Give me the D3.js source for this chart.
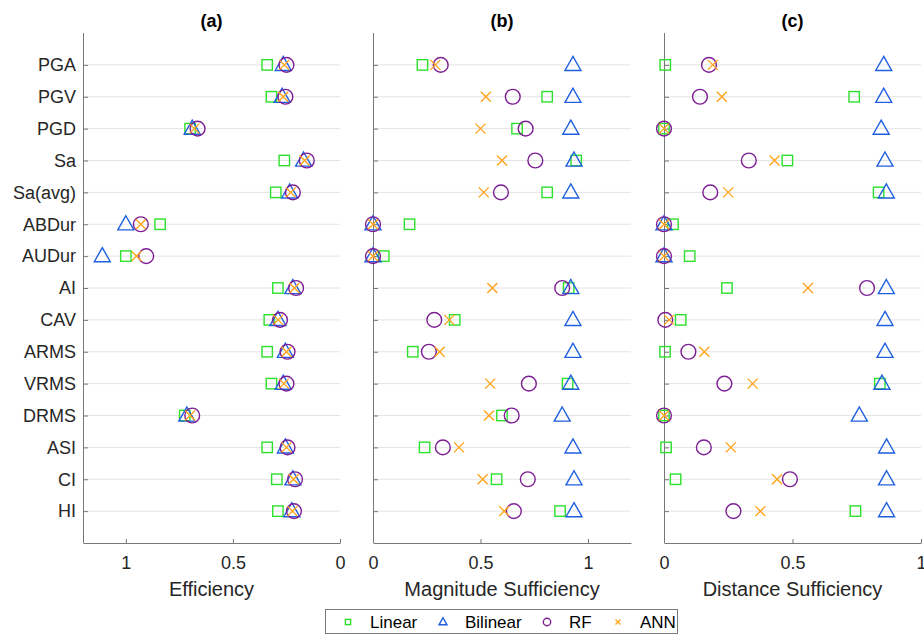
<!DOCTYPE html>
<html>
<head>
<meta charset="utf-8">
<script src="https://cdn.jsdelivr.net/npm/d3@7"></script>
<style>
  body { margin: 0; background: #fff; }
  svg { font-family: "Liberation Sans", Arial, Helvetica, sans-serif; }
</style>
</head>
<body>
<svg id="chart" width="924" height="634"></svg>
<script>
const categories = ['PGA', 'PGV', 'PGD', 'Sa', 'Sa(avg)', 'ABDur', 'AUDur', 'AI', 'CAV', 'ARMS', 'VRMS', 'DRMS', 'ASI', 'CI', 'HI'];
const models = ['Linear', 'Bilinear', 'RF', 'ANN'];

const effLinear   = [0.34, 0.32, 0.70, 0.26, 0.30, 0.84, 1.00, 0.29, 0.33, 0.34, 0.32, 0.725, 0.34, 0.295, 0.29];
const effBilinear = [0.265, 0.27, 0.69, 0.17, 0.235, 1.00, 1.11, 0.22, 0.29, 0.255, 0.265, 0.715, 0.255, 0.22, 0.225];
const effRF       = [0.25, 0.255, 0.665, 0.155, 0.22, 0.93, 0.905, 0.205, 0.28, 0.245, 0.25, 0.69, 0.245, 0.21, 0.215];
const effANN      = [0.26, 0.265, 0.68, 0.165, 0.23, 0.93, 0.95, 0.213, 0.289, 0.25, 0.262, 0.70, 0.25, 0.217, 0.222];

const magLinear   = [0.23, 0.81, 0.67, 0.945, 0.81, 0.17, 0.05, 0.91, 0.38, 0.185, 0.905, 0.60, 0.24, 0.575, 0.87];
const magBilinear = [0.93, 0.93, 0.92, 0.935, 0.92, 0.0, 0.0, 0.92, 0.93, 0.93, 0.92, 0.88, 0.93, 0.935, 0.935];
const magRF       = [0.315, 0.65, 0.71, 0.755, 0.595, 0.0, 0.0, 0.88, 0.285, 0.26, 0.725, 0.645, 0.325, 0.72, 0.655];
const magANN      = [0.29, 0.525, 0.50, 0.60, 0.515, 0.0, 0.0, 0.555, 0.355, 0.31, 0.545, 0.54, 0.40, 0.51, 0.61];

const distLinear   = [0.005, 0.74, 0.0, 0.48, 0.835, 0.035, 0.10, 0.245, 0.065, 0.004, 0.84, 0.0, 0.008, 0.045, 0.745];
const distBilinear = [0.855, 0.855, 0.845, 0.86, 0.865, 0.0, 0.0, 0.865, 0.86, 0.86, 0.848, 0.76, 0.866, 0.866, 0.866];
const distRF       = [0.175, 0.14, 0.0, 0.33, 0.18, 0.0, 0.0, 0.79, 0.005, 0.095, 0.235, 0.0, 0.155, 0.49, 0.27];
const distANN      = [0.19, 0.225, 0.0, 0.43, 0.25, 0.0, 0.0, 0.56, 0.02, 0.157, 0.345, 0.0, 0.26, 0.44, 0.375];

const xTicks = [0, 0.5, 1];

const colors = { Linear: '#2de02d', Bilinear: '#1f5fe0', RF: '#7d1e94', ANN: '#ffa31a' };
const textColor = '#262626';
const axisColor = '#777';

const panels = [
    { title: '(a)', label: 'Efficiency', domain: [1.2, 0], range: [83, 340], series: [effLinear, effBilinear, effRF, effANN], yLabels: true },
    { title: '(b)', label: 'Magnitude Sufficiency', domain: [0, 1.2], range: [373, 631], series: [magLinear, magBilinear, magRF, magANN], yLabels: false },
    { title: '(c)', label: 'Distance Sufficiency', domain: [0, 1], range: [664, 921], series: [distLinear, distBilinear, distRF, distANN], yLabels: false }
];

const yTop = 33, yBottom = 543;
const yScale = d3.scalePoint()
    .domain(categories)
    .range([yTop, yBottom])
    .padding(1);

const svg = d3.select('#chart');

// marker shapes, centred on 0,0
function drawMarker(g, model, size) {
    const k = size || 1;
    const c = colors[model];
    if (model === 'Linear') {
        g.append('rect').attr('x', -5.2 * k).attr('y', -5.2 * k).attr('width', 10.4 * k).attr('height', 10.4 * k)
            .attr('fill', 'none').attr('stroke', c).attr('stroke-width', 1.4);
    } else if (model === 'Bilinear') {
        g.append('path').attr('d', `M0,${-8.5 * k}L${8 * k},${5.6 * k}L${-8 * k},${5.6 * k}Z`)
            .attr('fill', 'none').attr('stroke', c).attr('stroke-width', 1.4).attr('stroke-linejoin', 'miter');
    } else if (model === 'RF') {
        g.append('circle').attr('r', 7.4 * k)
            .attr('fill', 'none').attr('stroke', c).attr('stroke-width', 1.4);
    } else {
        g.append('path').attr('d', `M${-5 * k},${-5 * k}L${5 * k},${5 * k}M${-5 * k},${5 * k}L${5 * k},${-5 * k}`)
            .attr('fill', 'none').attr('stroke', c).attr('stroke-width', 1.4);
    }
}

panels.forEach(p => {
    const x = d3.scaleLinear().domain(p.domain).range(p.range);
    const g = svg.append('g');
    const x0 = p.range[0], x1 = p.range[1];

    // grid lines
    g.selectAll('.grid')
        .data(categories)
        .join('line')
        .attr('x1', x0).attr('x2', x1)
        .attr('y1', d => yScale(d)).attr('y2', d => yScale(d))
        .attr('stroke', '#e4e4e4').attr('stroke-width', 1);

    // y axis
    const yAxis = d3.axisLeft(yScale).tickSizeInner(-5).tickSizeOuter(0).tickPadding(7)
        .tickFormat(p.yLabels ? (d => d) : '');
    const ya = g.append('g').attr('transform', `translate(${x0},0)`).call(yAxis);
    ya.select('.domain').attr('stroke', axisColor).attr('d', `M0.5,${yTop}V${yBottom}`);
    ya.selectAll('.tick line').attr('stroke', axisColor);
    ya.selectAll('.tick text').attr('fill', textColor).attr('font-size', 18);

    // x axis
    const xAxis = d3.axisBottom(x).tickValues(xTicks).tickSizeInner(-4).tickSizeOuter(0).tickPadding(13)
        .tickFormat(d3.format('~g'));
    const xa = g.append('g').attr('transform', `translate(0,${yBottom})`).call(xAxis);
    xa.select('.domain').attr('stroke', axisColor);
    xa.selectAll('.tick line').attr('stroke', axisColor);
    xa.selectAll('.tick text').attr('fill', textColor).attr('font-size', 18);
    xa.attr('font-family', null);
    ya.attr('font-family', null);

    // axis label and title
    const cx = (x0 + x1) / 2;
    g.append('text').attr('x', cx).attr('y', 596).attr('text-anchor', 'middle')
        .attr('font-size', 20).attr('fill', textColor).text(p.label);
    g.append('text').attr('x', cx).attr('y', 27).attr('text-anchor', 'middle')
        .attr('font-size', 18).attr('font-weight', 'bold').attr('fill', '#000').text(p.title);

    // markers
    models.forEach((m, mi) => {
        const values = p.series[mi];
        g.selectAll(null)
            .data(values)
            .join('g')
            .attr('transform', (d, i) => `translate(${x(d)},${yScale(categories[i])})`)
            .each(function () { drawMarker(d3.select(this), m); });
    });
});

// legend
const legend = svg.append('g');
legend.append('rect')
    .attr('x', 325.5).attr('y', 609.5).attr('width', 352).attr('height', 24)
    .attr('fill', '#fff').attr('stroke', '#7a7a7a').attr('stroke-width', 1);
const legendX = d3.scaleOrdinal().domain(models).range([348, 443, 547, 618]);
models.forEach(m => {
    const item = legend.append('g').attr('transform', `translate(${legendX(m)},622)`);
    drawMarker(item, m, 0.5);
    item.append('text').attr('x', 22).attr('y', 6).attr('font-size', 17).attr('fill', '#000').text(m);
});
</script>
</body>
</html>
